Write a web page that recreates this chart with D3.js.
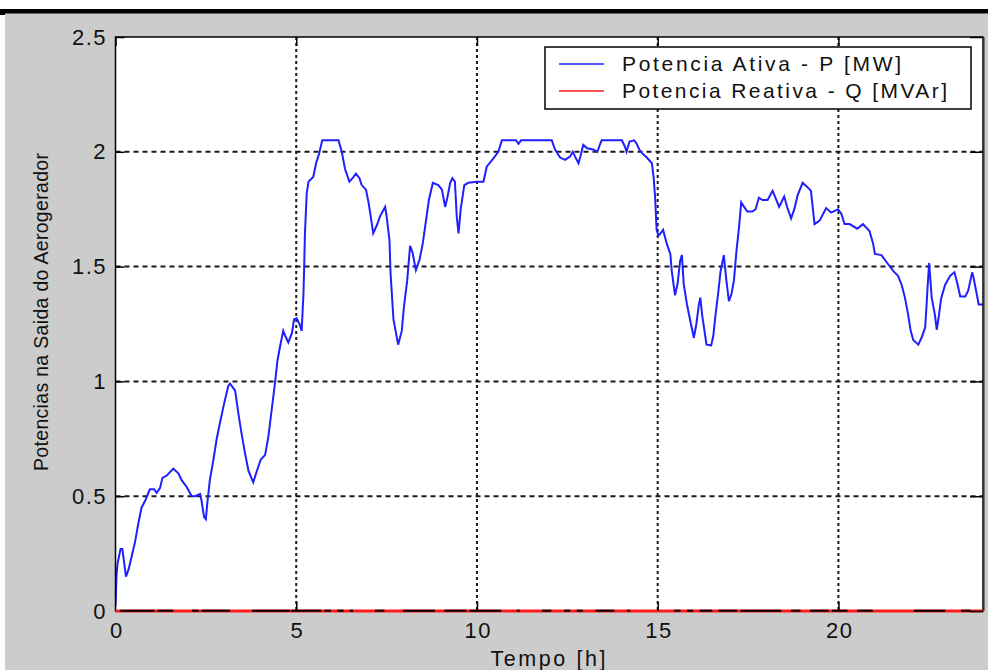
<!DOCTYPE html>
<html>
<head>
<meta charset="utf-8">
<script src="https://cdn.jsdelivr.net/npm/d3@7"></script>
<style>
  html, body { margin: 0; padding: 0; background: #ffffff; }
  svg { display: block; }
  text { font-family: "Liberation Sans", Arial, sans-serif; fill: #111; }
</style>
</head>
<body>
<svg id="chart" width="988" height="670"></svg>
<script>
// ---------------- data ----------------
const hours = [0.00,0.03,0.06,0.14,0.19,0.29,0.36,0.45,0.54,0.63,0.72,0.82,0.95,1.07,1.14,1.23,1.30,1.42,1.60,1.74,1.83,1.97,2.11,2.20,2.34,2.38,2.45,2.50,2.54,2.61,2.71,2.80,2.89,3.00,3.12,3.17,3.31,3.40,3.49,3.58,3.68,3.81,3.91,4.02,4.14,4.23,4.32,4.41,4.48,4.55,4.64,4.69,4.78,4.88,4.94,5.01,5.09,5.15,5.20,5.22,5.24,5.29,5.34,5.47,5.55,5.63,5.72,6.17,6.26,6.35,6.47,6.56,6.65,6.75,6.81,6.93,7.00,7.06,7.13,7.23,7.32,7.46,7.50,7.58,7.61,7.69,7.82,7.92,7.98,8.07,8.15,8.22,8.31,8.41,8.50,8.59,8.67,8.78,8.93,9.03,9.12,9.18,9.26,9.32,9.39,9.44,9.49,9.55,9.65,9.76,9.99,10.18,10.27,10.45,10.59,10.69,11.08,11.15,11.22,12.07,12.16,12.30,12.44,12.58,12.65,12.71,12.81,12.87,12.94,13.05,13.22,13.33,13.41,13.45,14.01,14.10,14.14,14.22,14.35,14.42,14.49,14.59,14.70,14.84,14.89,14.93,14.97,15.02,15.08,15.15,15.25,15.35,15.39,15.48,15.55,15.62,15.67,15.72,15.81,15.90,16.00,16.07,16.14,16.18,16.23,16.35,16.48,16.54,16.60,16.67,16.74,16.83,16.90,16.97,17.04,17.11,17.18,17.25,17.31,17.39,17.48,17.62,17.71,17.80,17.90,18.04,18.18,18.27,18.36,18.50,18.59,18.69,18.78,18.87,19.01,19.15,19.24,19.34,19.48,19.66,19.80,19.99,20.08,20.17,20.31,20.52,20.68,20.86,20.96,21.01,21.19,21.33,21.52,21.65,21.75,21.84,21.93,22.00,22.07,22.21,22.30,22.40,22.44,22.47,22.51,22.58,22.67,22.72,22.77,22.84,22.95,23.09,23.21,23.30,23.37,23.51,23.59,23.70,23.74,23.84,23.88,24.00];
const pActive = [0.02,0.16,0.21,0.27,0.27,0.15,0.18,0.24,0.30,0.38,0.45,0.48,0.53,0.53,0.515,0.535,0.58,0.59,0.62,0.60,0.57,0.54,0.50,0.50,0.51,0.48,0.41,0.40,0.47,0.57,0.66,0.75,0.82,0.90,0.98,0.99,0.96,0.86,0.77,0.69,0.61,0.56,0.61,0.66,0.68,0.76,0.875,0.99,1.09,1.15,1.22,1.20,1.17,1.21,1.27,1.275,1.25,1.22,1.38,1.50,1.64,1.82,1.87,1.89,1.95,1.99,2.05,2.05,2.00,1.925,1.87,1.885,1.905,1.885,1.855,1.835,1.78,1.72,1.645,1.68,1.72,1.76,1.72,1.615,1.47,1.27,1.16,1.22,1.325,1.44,1.59,1.56,1.485,1.53,1.60,1.70,1.79,1.865,1.855,1.835,1.76,1.80,1.865,1.885,1.87,1.72,1.645,1.75,1.855,1.865,1.87,1.87,1.935,1.97,2.00,2.05,2.05,2.035,2.05,2.05,2.01,1.975,1.965,1.98,2.00,1.98,1.95,1.985,2.03,2.015,2.01,2.00,2.035,2.05,2.05,2.02,2.00,2.045,2.05,2.035,2.01,1.99,1.975,1.95,1.885,1.80,1.66,1.635,1.645,1.66,1.60,1.555,1.48,1.375,1.425,1.525,1.55,1.425,1.335,1.265,1.19,1.25,1.335,1.365,1.29,1.16,1.157,1.20,1.29,1.38,1.48,1.55,1.44,1.35,1.38,1.44,1.57,1.67,1.78,1.76,1.74,1.74,1.75,1.80,1.79,1.79,1.83,1.795,1.76,1.805,1.755,1.71,1.75,1.81,1.865,1.845,1.83,1.685,1.70,1.755,1.735,1.75,1.73,1.685,1.685,1.665,1.685,1.655,1.60,1.555,1.55,1.52,1.48,1.46,1.42,1.365,1.29,1.22,1.18,1.16,1.19,1.235,1.335,1.42,1.515,1.365,1.29,1.225,1.275,1.36,1.42,1.46,1.475,1.42,1.37,1.37,1.395,1.475,1.45,1.37,1.335,1.335];

const qHours = [0, 24];
const qReactive = [0, 0];
// stretches (start hour, end hour) where the black axis shows through the red Q trace
const qDarkStart = [0.12,1.16,2.12,2.38,3.78,4.86,5.78,6.13,6.48,7.18,7.96,9.10,9.79,11.10,11.80,12.41,12.76,13.28,14.15,15.46,15.81,16.16,16.68,17.29,18.69,19.21,19.82,20.52,22.09,23.39];
const qDarkEnd   = [1.08,1.60,2.30,3.17,4.83,5.70,5.96,6.31,6.57,7.44,8.84,9.71,10.67,11.19,12.06,12.58,12.93,13.80,14.24,15.63,15.98,16.51,17.20,18.42,18.95,19.73,20.25,20.95,22.96,23.65];

const xTicks = [0, 5, 10, 15, 20];
const yTicks = [0, 0.5, 1, 1.5, 2, 2.5];
const xGrid = [5, 10, 15, 20];
const yGrid = [0.5, 1, 1.5, 2];
const seriesNames = ["Potencia Ativa - P [MW]", "Potencia Reativa - Q [MVAr]"];
const seriesColors = ["#1f1fff", "#ff1a1a"];
const xLabel = "Tempo [h]";
const yLabel = "Potencias na Saida do Aerogerador";

// ---------------- layout ----------------
const svg = d3.select("#chart");
const L = 115.5, R = 983, T = 37, B = 611;
const x = d3.scaleLinear().domain([0, 24]).range([L, R]);
const y = d3.scaleLinear().domain([0, 2.5]).range([B, T]);

// figure background
svg.append("rect").attr("x", 0).attr("y", 0).attr("width", 988).attr("height", 670).attr("fill", "#ffffff");
svg.append("rect").attr("x", 5).attr("y", 13).attr("width", 983).attr("height", 657).attr("fill", "#cccccc");
svg.append("rect").attr("x", 0).attr("y", 9).attr("width", 988).attr("height", 4.5).attr("fill", "#000");
svg.append("rect").attr("x", 0).attr("y", 9).attr("width", 5).attr("height", 6).attr("fill", "#000");

// plot area
svg.append("rect").attr("x", L).attr("y", T).attr("width", R - L).attr("height", B - T).attr("fill", "#ffffff");

// grid
const grid = svg.append("g");
grid.selectAll(".gx").data(xGrid).join("line")
  .attr("x1", d => x(d)).attr("x2", d => x(d)).attr("y1", T).attr("y2", B)
  .attr("stroke", "#1a1a1a").attr("stroke-width", 2).attr("stroke-dasharray", "3,3");
grid.selectAll(".gy").data(yGrid).join("line")
  .attr("x1", L).attr("x2", R).attr("y1", d => y(d)).attr("y2", d => y(d))
  .attr("stroke", "#1a1a1a").attr("stroke-width", 2).attr("stroke-dasharray", "5,4");

// clip
svg.append("clipPath").attr("id", "clip").append("rect")
  .attr("x", L).attr("y", T - 2).attr("width", R - L).attr("height", B - T + 4);

// P series
const pData = hours.map((h, i) => [h, pActive[i]]);
const line = d3.line().x(d => x(d[0])).y(d => y(d[1]));
svg.append("path").datum(pData).attr("clip-path", "url(#clip)")
  .attr("d", line).attr("fill", "none").attr("stroke", seriesColors[0])
  .attr("stroke-width", 2).attr("stroke-linejoin", "miter");

// axes box
svg.append("rect").attr("x", L).attr("y", T).attr("width", R - L).attr("height", B - T)
  .attr("fill", "none").attr("stroke", "#000").attr("stroke-width", 1.5);
svg.append("line").attr("x1", R + 0.8).attr("x2", R + 0.8).attr("y1", T).attr("y2", B)
  .attr("stroke", "#333").attr("stroke-width", 1.5);

// Q series (drawn over the bottom axis line)
const qData = qHours.map((h, i) => [h, qReactive[i]]);
svg.append("path").datum(qData).attr("d", line).attr("fill", "none")
  .attr("stroke", seriesColors[1]).attr("stroke-width", 3.2);
svg.append("g").selectAll("line").data(qDarkStart.map((s, i) => [s, qDarkEnd[i]])).join("line")
  .attr("x1", d => x(d[0])).attr("x2", d => x(d[1]))
  .attr("y1", y(0) - 0.3).attr("y2", y(0) - 0.3)
  .attr("stroke", "#000").attr("stroke-width", 2);

// axes via d3
const fmtY = d => (d === 0 ? "0" : d3.format("")(d));
const ax = svg.append("g").attr("transform", `translate(0,${B})`)
  .call(d3.axisBottom(x).tickValues(xTicks).tickSize(-9).tickPadding(11).tickFormat(d3.format("d")));
const axT = svg.append("g").attr("transform", `translate(0,${T})`)
  .call(d3.axisTop(x).tickValues(xTicks).tickSize(-9).tickFormat(""));
const ay = svg.append("g").attr("transform", `translate(${L},0)`)
  .call(d3.axisLeft(y).tickValues(yTicks).tickSize(-9).tickPadding(10).tickFormat(fmtY));
const ayR = svg.append("g").attr("transform", `translate(${R},0)`)
  .call(d3.axisRight(y).tickValues(yTicks).tickSize(-13).tickFormat(""));
[ax, axT, ay, ayR].forEach(g => {
  g.select(".domain").remove();
  g.selectAll(".tick line").attr("stroke", "#000").attr("stroke-width", 1.5);
  g.selectAll("text").attr("font-size", 22).attr("fill", "#111")
    .style("font-family", '"Liberation Sans", Arial, sans-serif').style("letter-spacing", "1.5px");
});
ax.selectAll(".tick").filter(d => d === 0).select("line").remove();
ay.selectAll(".tick").filter(d => d === 0).select("line").remove();
ay.selectAll("text").attr("dx", "1.5");
ax.selectAll("text").attr("dx", "0.75");

// axis titles
svg.append("text").attr("x", 548).attr("y", 665.5).attr("text-anchor", "middle")
  .attr("font-size", 21.5).attr("textLength", 115).attr("lengthAdjust", "spacing").text(xLabel);
svg.append("text").attr("transform", "translate(48,312) rotate(-90)").attr("text-anchor", "middle")
  .attr("font-size", 19.5).attr("textLength", 318).attr("lengthAdjust", "spacing").text(yLabel);

// legend
const lg = svg.append("g");
lg.append("rect").attr("x", 545).attr("y", 47).attr("width", 426).attr("height", 62)
  .attr("fill", "#fff").attr("stroke", "#000").attr("stroke-width", 1.5);
const lgLens = [279, 325];
const lgY = [64, 91];
seriesNames.forEach((name, i) => {
  lg.append("line").attr("x1", 559).attr("x2", 604).attr("y1", lgY[i]).attr("y2", lgY[i])
    .attr("stroke", seriesColors[i]).attr("stroke-width", 1.5);
  lg.append("text").attr("x", 622).attr("y", lgY[i] + 6.5).attr("font-size", 21)
    .attr("textLength", lgLens[i]).attr("lengthAdjust", "spacing").text(name);
});
</script>
</body>
</html>
